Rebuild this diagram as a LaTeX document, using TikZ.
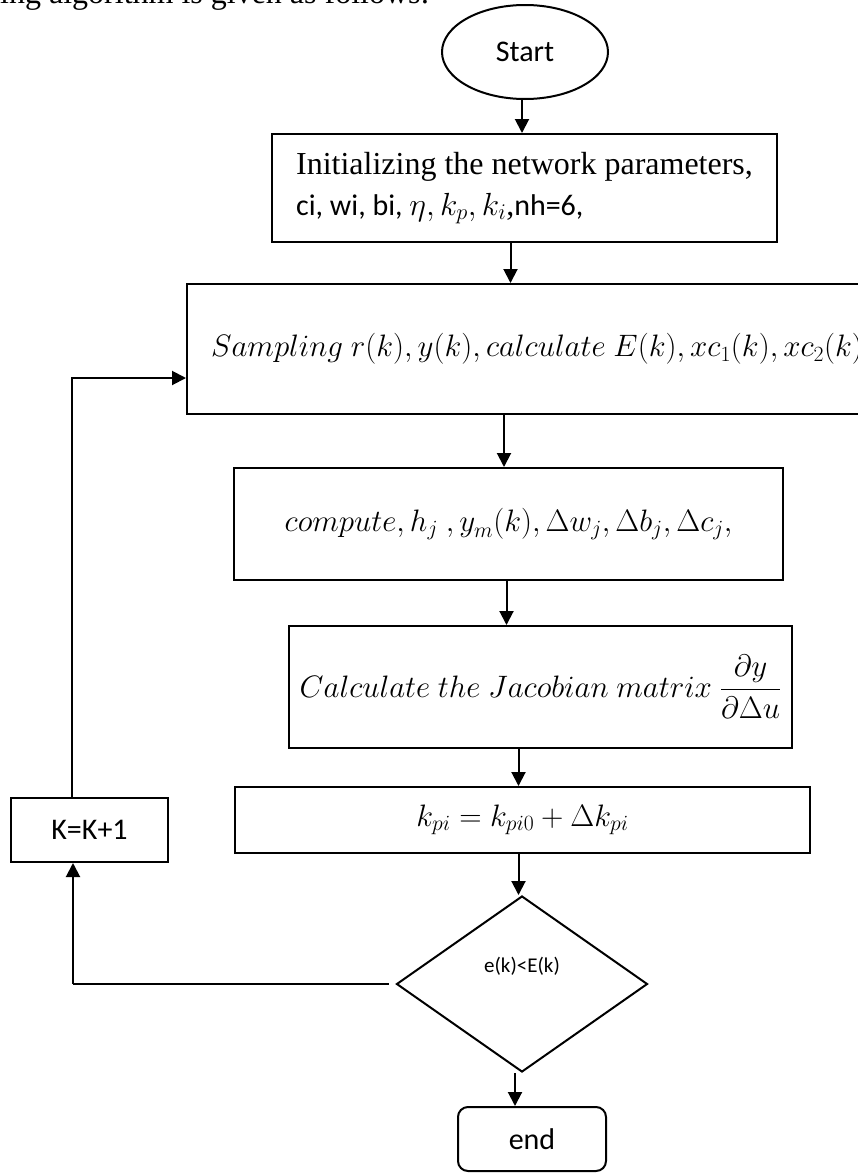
\documentclass[tikz,border=0pt]{standalone}
\usepackage{fix-cm}
\usepackage{amsmath}
\usepackage[no-math]{fontspec}
\setmainfont{Liberation Serif}
\newfontfamily\calibri{Carlito}
\usetikzlibrary{arrows.meta}
\usetikzlibrary{shapes.geometric}

\tikzset{
  box/.style={draw, line width=2pt, inner sep=0pt},
  arr/.style={line width=2pt, -{Triangle[length=14pt,width=14pt]}},
  sans/.style={font=\calibri\fontsize{30}{36}\selectfont},
  eqn/.style={font=\fontsize{31}{37}\selectfont},
}

\begin{document}
\begin{tikzpicture}[x=1pt,y=-1pt]
      \useasboundingbox (0,0) rectangle (857,1173);

      % tail of the sentence above the chart
      \node[anchor=base west, inner sep=0pt, font=\fontsize{32}{40}\selectfont] (lead) at (0,3) {ing algorithm is given as follows:};

      \node[box, ellipse, sans, minimum width=166, minimum height=94] (start) at (525,52) {Start};
      \node[box, align=left, minimum width=505, minimum height=108, font=\fontsize{32}{41}\selectfont] (init) at (524.5,188)
      {Initializing the network parameters,\\{\calibri\fontsize{30}{41}\selectfont ci, wi, bi, }$\eta, k_p, k_i$,{\calibri\fontsize{30}{41}\selectfont nh=6,}};
      \node[box, eqn, minimum width=700, minimum height=130] (sampling) at (537,349)
      {$Sampling\ r(k), y(k), calculate\ E(k), xc_1(k), xc_2(k)$};
      \node[box, eqn, minimum width=549, minimum height=112] (compute) at (508.5,524)
      {$compute, h_j\ , y_{\lower2pt\hbox{$\scriptstyle m$}}(k), \Delta w_j, \Delta b_j, \Delta c_j,$};
      \node[box, eqn, minimum width=503, minimum height=122] (jacob) at (540.5,687)
      {$Calculate\ the\ Jacobian\ matrix\ \dfrac{\partial y}{\partial \Delta u}$};
      \node[box, eqn, minimum width=575, minimum height=66] (kpi) at (522.5,820)
      {$k_{pi} = k_{pi0} + \Delta k_{pi}$};
      \node[box, diamond, aspect=1.43, minimum width=251, minimum height=176,
        label={[yshift=18pt, font=\calibri\fontsize{21}{25}\selectfont]center:e(k)<E(k)}] (decide) at (522,984) {};
      \node[box, sans, rounded corners=10, minimum width=148, minimum height=64] (stop) at (532,1139) {end};
      \node[box, sans, minimum width=157, minimum height=64] (kbox) at (89.5,830) {K=K+1};

      % main flow
      \draw[arr] ([xshift=-3pt]start.south) -- ([xshift=-3pt]start.south |- init.north);
      \draw[arr] ([xshift=-14pt]init.south) -- ([xshift=-14pt]init.south |- sampling.north);
      \draw[arr] ([xshift=-33pt]sampling.south) -- ([xshift=-33pt]sampling.south |- compute.north);
      \draw[arr] ([xshift=-2pt]compute.south) -- ([xshift=-2pt]compute.south |- jacob.north);
      \draw[arr] ([xshift=-22pt]jacob.south) -- ([xshift=-22pt]jacob.south |- kpi.north);
      \draw[arr] ([xshift=-4pt]kpi.south) -- ([xshift=-4pt]kpi.south |- decide.north);
      \draw[arr] ([xshift=-7pt]decide.south) -- ([xshift=-7pt]decide.south |- stop.north);

      % back to sampling through K=K+1
      \coordinate (back) at (73,984);
      \coordinate (up) at (72,378);
      \draw[line width=2pt] ([xshift=-7pt]decide.west) -- (back);
      \draw[arr] (back) -- (back |- kbox.south);
      \draw[arr] (up |- kbox.north) -- (up) -- (up -| sampling.west);
\end{tikzpicture}
\end{document}
